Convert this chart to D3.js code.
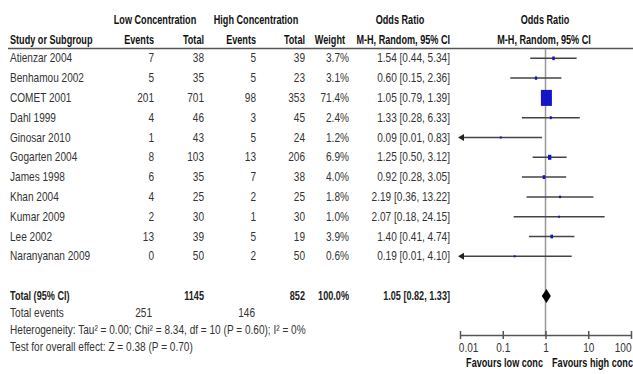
<!DOCTYPE html>
<html><head><meta charset="utf-8">
<script src="https://cdn.jsdelivr.net/npm/d3@7"></script>
<style>
html,body{margin:0;padding:0;background:#fff;}
svg text{font-family:"Liberation Sans",Arial,sans-serif;}
</style></head>
<body><svg id="c" width="633" height="374"></svg>
<script>
const studies = ["Atienzar 2004","Benhamou 2002","COMET 2001","Dahl 1999","Ginosar 2010","Gogarten 2004","James 1998","Khan 2004","Kumar 2009","Lee 2002","Naranyanan 2009"];
const lowEvents = [7,5,201,4,1,8,6,4,2,13,0];
const lowTotal = [38,35,701,46,43,103,35,25,30,39,50];
const highEvents = [5,5,98,3,5,13,7,2,1,5,2];
const highTotal = [39,23,353,45,24,206,38,25,30,19,50];
const weights = [3.7,3.1,71.4,2.4,1.2,6.9,4.0,1.8,1.0,3.9,0.6];
const orEst = [1.54,0.60,1.05,1.33,0.09,1.25,0.92,2.19,2.07,1.40,0.19];
const orLow = [0.44,0.15,0.79,0.28,0.01,0.50,0.28,0.36,0.18,0.41,0.01];
const orHigh = [5.34,2.36,1.39,6.33,0.83,3.12,3.05,13.22,24.15,4.74,4.10];
const totalLow = 1145, totalHigh = 852, eventsLow = 251, eventsHigh = 146;
const pooled = {est:1.05, lo:0.82, hi:1.33};
const axisTicks = [0.01,0.1,1,10,100];
const hetText = "Heterogeneity: Tau\u00B2 = 0.00; Chi\u00B2 = 8.34, df = 10 (P = 0.60); I\u00B2 = 0%";
const testText = "Test for overall effect: Z = 0.38 (P = 0.70)";

const svg = d3.select("#c");
const x = d3.scaleLog().domain([0.01,100]).range([460,631]);
const y = d3.scaleLinear().domain([0,1]).range([58.3,78.1]);
const SX = 0.84, SXB = 0.76;
const txtCol = "#333";

function t(xp, yp, s, anchor, bold, size, col){
  return svg.append("text").attr("transform",`translate(${xp},${yp}) scale(${bold?SXB:SX},1)`)
    .attr("text-anchor",anchor||"start")
    .attr("font-size",size||12).attr("font-weight",bold?"bold":"normal")
    .attr("fill",col||txtCol).text(s);
}
// headers
const hc = "#111";
t(155,24,"Low Concentration","middle",true,12,hc);
t(256,24,"High Concentration","middle",true,12,hc);
t(400,24,"Odds Ratio","middle",true,12,hc);
t(545,24,"Odds Ratio","middle",true,12,hc);
t(10,44,"Study or Subgroup","start",true,12,hc);
t(154,44,"Events","end",true,12,hc);
t(204,44,"Total","end",true,12,hc);
t(256,44,"Events","end",true,12,hc);
t(305,44,"Total","end",true,12,hc);
t(345,44,"Weight","end",true,12,hc);
t(450,44,"M-H, Random, 95% CI","end",true,12,hc);
t(544,44,"M-H, Random, 95% CI","middle",true,12,hc);
svg.append("line").attr("x1",8).attr("x2",633).attr("y1",48.5).attr("y2",48.5).attr("stroke","#555").attr("stroke-width",1.5);

// vertical reference line
svg.append("line").attr("x1",x(1)).attr("x2",x(1)).attr("y1",49).attr("y2",335).attr("stroke","#999").attr("stroke-width",1.5);

const f2 = d3.format(".2f");
studies.forEach((s,i)=>{
  const yy = y(i);
  t(10,yy+4,s,"start");
  t(154,yy+4,lowEvents[i],"end");
  t(204,yy+4,lowTotal[i],"end");
  t(256,yy+4,highEvents[i],"end");
  t(305,yy+4,highTotal[i],"end");
  t(349,yy+4,weights[i].toFixed(1)+"%","end");
  t(450,yy+4,`${f2(orEst[i])} [${f2(orLow[i])}, ${f2(orHigh[i])}]`,"end");
  const lo = Math.max(orLow[i],0.01), hi = Math.min(orHigh[i],100);
  const clipL = orLow[i] <= 0.01;
  const x1 = clipL ? x(0.01)-2 : x(lo);
  svg.append("line").attr("x1",x1+(clipL?4:0)).attr("x2",x(hi)).attr("y1",yy).attr("y2",yy).attr("stroke","#444").attr("stroke-width",1.5);
  if(clipL){
    svg.append("path").attr("d",`M${x1},${yy} l6,-3.5 l0,7 z`).attr("fill","#222");
  }
  const k = Math.sqrt(weights[i]/71.4);
  const w = Math.max(11*k,2), h = Math.max(16*k,2);
  svg.append("rect").attr("x",x(orEst[i])-w/2).attr("y",yy-h/2).attr("width",w).attr("height",h).attr("fill","#1515c8");
});

// totals
const yT = 296;
const bc = "#222";
t(10,yT+4,"Total (95% CI)","start",true,12,bc);
t(204,yT+4,totalLow,"end",true,12,bc);
t(305,yT+4,totalHigh,"end",true,12,bc);
t(349,yT+4,"100.0%","end",true,12,bc);
t(450,yT+4,`${f2(pooled.est)} [${f2(pooled.lo)}, ${f2(pooled.hi)}]`,"end",true,12,bc);
const dx1 = x(pooled.lo), dx2 = x(pooled.hi), dxc = x(pooled.est);
svg.append("path").attr("d",`M${dx1},${yT} L${dxc},${yT-7} L${dx2},${yT} L${dxc},${yT+7} Z`).attr("fill","#000");

t(10,313+4,"Total events","start");
t(152,313+4,eventsLow,"end");
t(255,313+4,eventsHigh,"end");
t(10,330+4,hetText,"start");
t(10,347+4,testText,"start");

// axis
const ax = svg.append("g").attr("transform","translate(0,335)")
  .call(d3.axisBottom(x).tickValues(axisTicks).tickFormat(d=>String(d)).tickSizeOuter(0).tickSizeInner(4).tickPadding(4));
ax.attr("font-family",null).attr("font-size",null);
ax.select(".domain").attr("stroke","#555").attr("stroke-width",1.5);
ax.selectAll(".tick line").attr("y1",-4).attr("y2",4).attr("stroke","#555").attr("stroke-width",1.5);
ax.selectAll(".tick text").attr("font-size",12).attr("fill",txtCol)
  .attr("transform",`scale(${SX},1)`)
  .attr("text-anchor",(d,i)=> i===0?"start":(i===axisTicks.length-1?"end":"middle"))
  .attr("dx",(d,i)=> i===0?"-2":"0");
t(543,367,"Favours low conc","end",true,12,hc);
t(552,367,"Favours high conc","start",true,12,hc);
</script></body></html>
